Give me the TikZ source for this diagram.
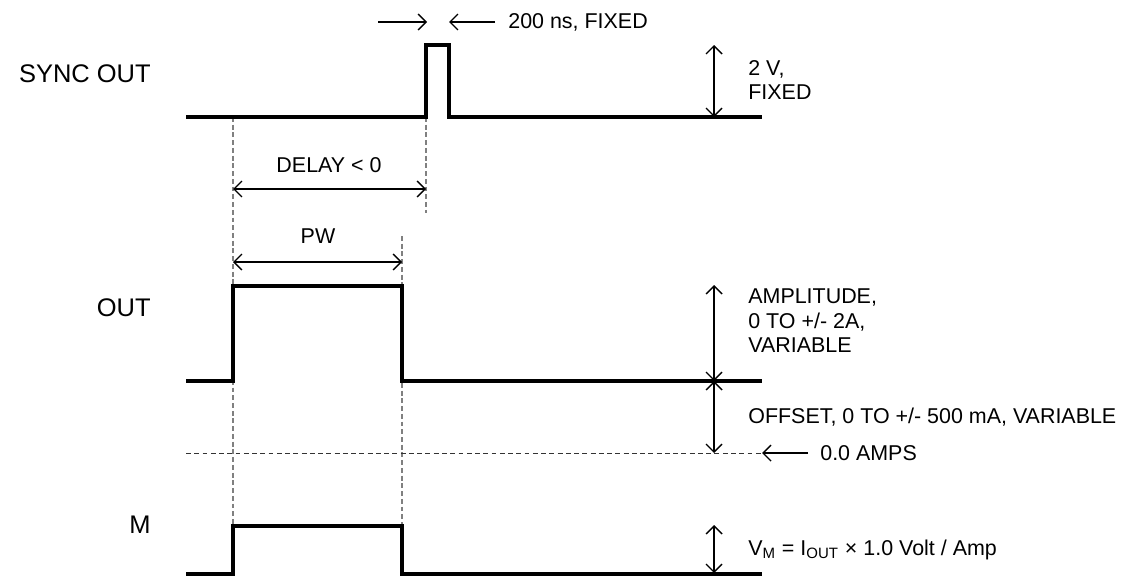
\documentclass[tikz,border=0pt]{standalone}
\usepackage{fontspec}
\setmainfont{Liberation Sans}
\usetikzlibrary{arrows.meta}

\begin{document}
\begin{tikzpicture}[
x=0.02cm, y=-0.02cm,
sig/.style={line width=2pt, line join=miter},
dim/.style={{Straight Barb[length=1.6mm,width=3.2mm]}-{Straight Barb[length=1.6mm,width=3.2mm]}, line width=0.8pt},
ptr/.style={-{Straight Barb[length=1.6mm,width=3.2mm]}, line width=0.8pt},
guide/.style={gray, dash pattern=on 2.8pt off 1.6pt, line width=0.7pt},
zero/.style={black!80, dash pattern=on 2.8pt off 1.9pt, line width=0.5pt},
lbl/.style={font=\fontsize{14.5}{17}\selectfont, anchor=east, inner sep=0pt},
note/.style={font=\fontsize{12.2}{14}\selectfont, align=left, anchor=west, inner sep=0pt}
]
\useasboundingbox (0,0) rectangle (1122,578);

% signal names
\node[lbl] (sync) at (151,74) {SYNC OUT};
\node[lbl] (out) at (151,308) {OUT};
\node[lbl] (mon) at (151,525) {M};

% timing guides
\coordinate (g1t) at (233,117);
\coordinate (g1b) at (233,525);
\coordinate (g2t) at (402,236);
\coordinate (g2b) at (402,525);
\coordinate (g3t) at (426,117);
\coordinate (g3b) at (426,213);
\draw[guide] (g1t) -- (g1b);
\draw[guide] (g2t) -- (g2b);
\draw[guide] (g3t) -- (g3b);
\coordinate (z0) at (186,453);
\coordinate (z1) at (762,453);
\draw[zero] (z0) -- (z1);

% waveforms
\draw[sig] (186,117) -- (426,117) -- (426,45) -- (449,45) -- (449,117) -- (762,117);
\draw[sig] (186,381) -- (233,381) -- (233,286) -- (402,286) -- (402,381) -- (762,381);
\draw[sig] (186,574) -- (233,574) -- (233,526) -- (402,526) -- (402,574) -- (762,574);

% sync pulse width
\coordinate (w0) at (378,22);
\coordinate (w1) at (427,22);
\coordinate (w2) at (495,22);
\coordinate (w3) at (449,22);
\draw[ptr] (w0) -- (w1);
\draw[ptr] (w2) -- (w3);
\node[note] (wtxt) at (508,22) {200 ns, FIXED};

% sync amplitude
\coordinate (v0) at (714,45);
\coordinate (v1) at (714,117);
\draw[dim] (v0) -- (v1);
\node[note] (vtxt) at (748,80) {2 V,\\FIXED};

% delay and pw
\draw[dim] (233,189) coordinate (d0) -- (426,189) coordinate (d1);
\node[font=\fontsize{12.2}{14}\selectfont, inner sep=0pt] (dtxt) at (329,165) {DELAY < 0};
\draw[dim] (233,262) coordinate (p0) -- (402,262) coordinate (p1);
\node[font=\fontsize{12.2}{14}\selectfont, inner sep=0pt] (ptxt) at (318,236) {PW};

% amplitude and offset
\coordinate (a0) at (714,285);
\coordinate (a1) at (714,381);
\coordinate (a2) at (714,453);
\draw[dim] (a0) -- (a1);
\draw[dim] (a1) -- (a2);
\node[note] (atxt) at (748,321) {AMPLITUDE,\\0 TO +/- 2A,\\VARIABLE};
\node[note] (otxt) at (748,417) {OFFSET, 0 TO +/- 500 mA, VARIABLE};
\coordinate (r0) at (808,453);
\draw[ptr] (r0) -- (z1);
\node[note] (ztxt) at (820,453) {0.0 AMPS};

% monitor
\coordinate (m0) at (714,525);
\coordinate (m1) at (714,573);
\draw[dim] (m0) -- (m1);
\node[note] (mtxt) at (748,550) {V\textsubscript{M} = I\textsubscript{OUT} × 1.0 Volt / Amp};
\end{tikzpicture}
\end{document}
